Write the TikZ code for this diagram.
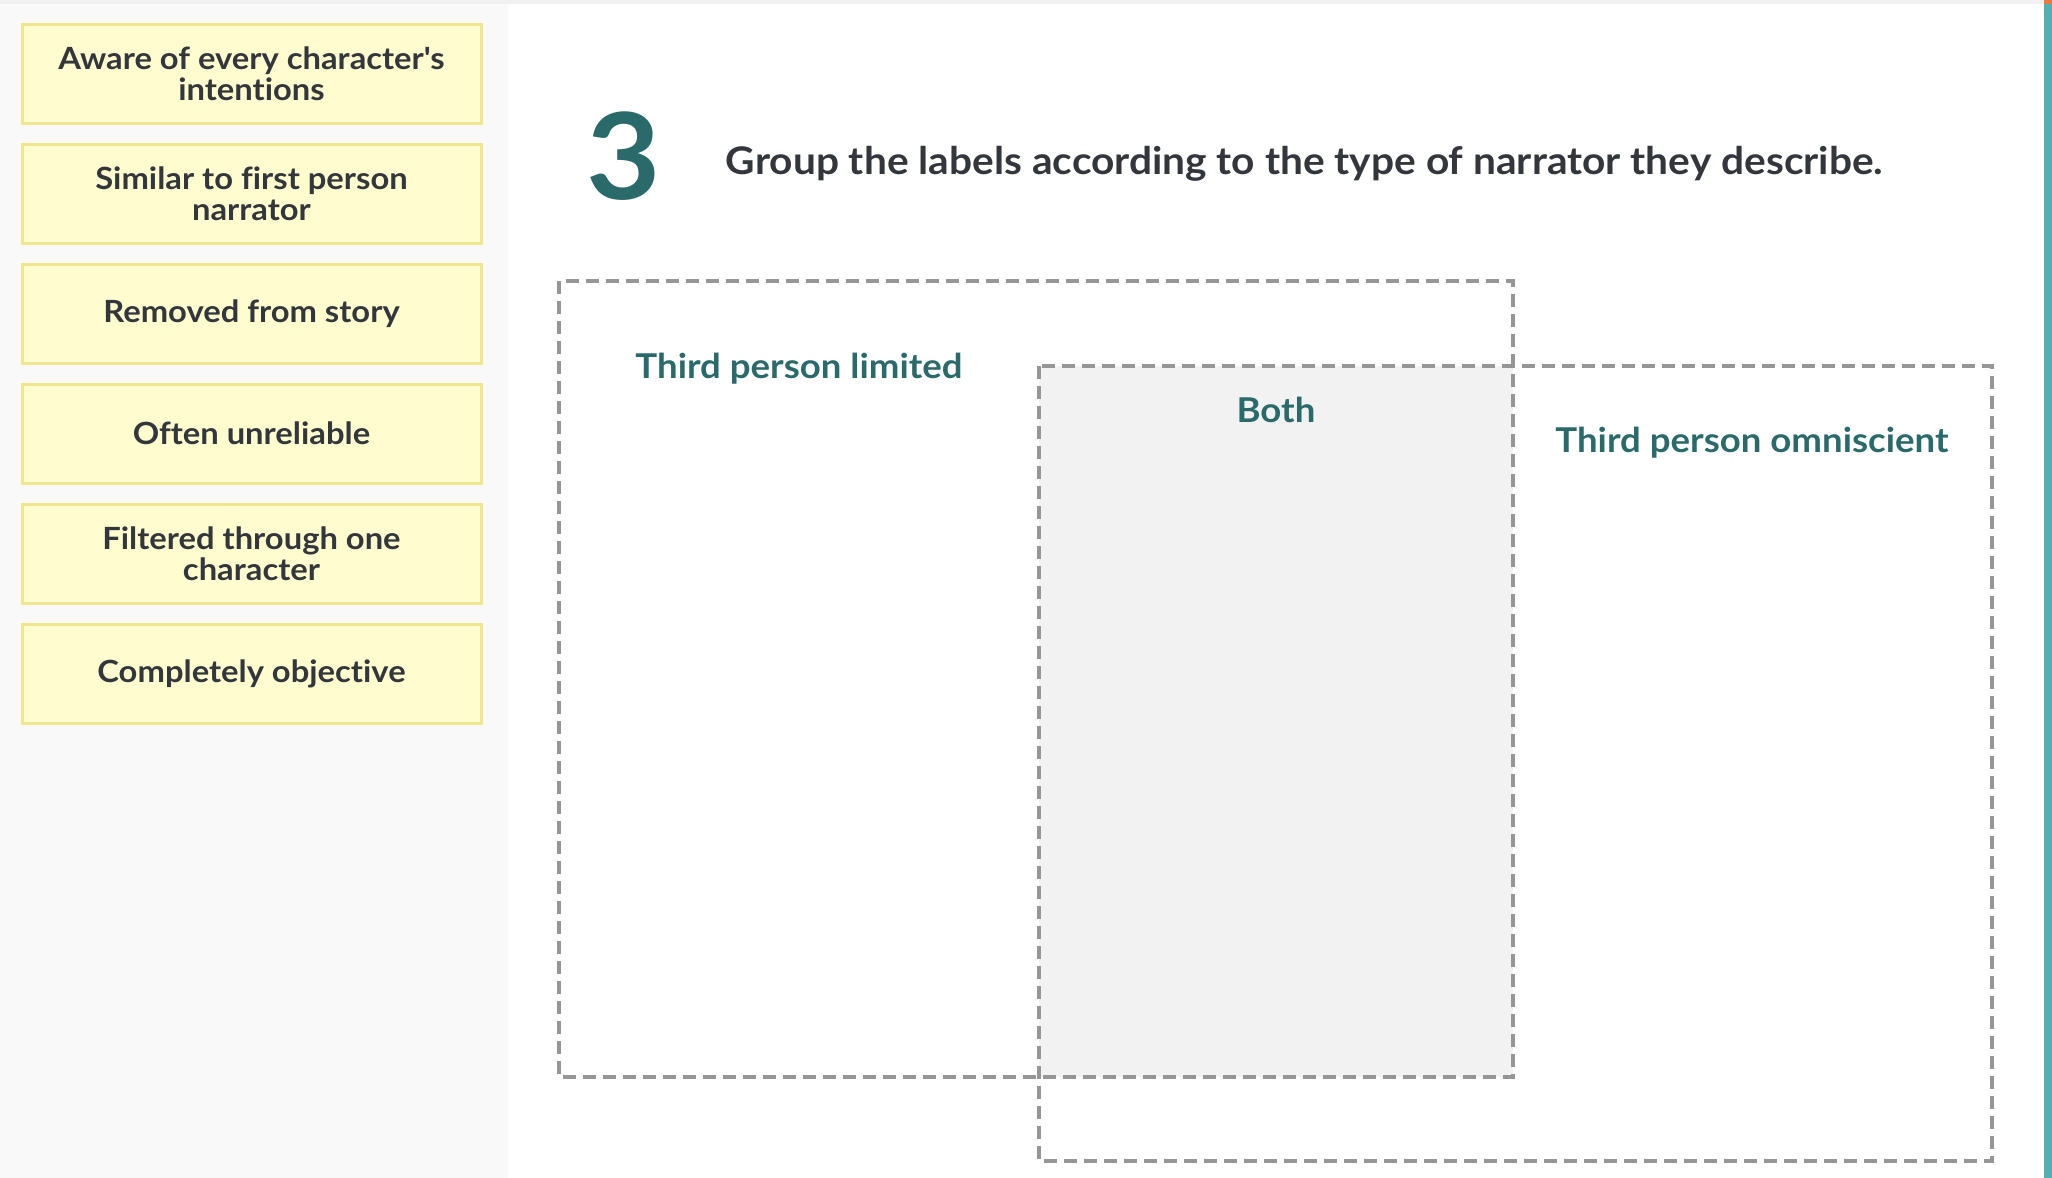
\documentclass[tikz,border=0pt]{standalone}
\usepackage{fontspec}
\setmainfont{Lato}[Ligatures={TeXOff,NoCommon},FakeStretch=1.07]
\usepackage{tikz}

\begin{document}
\begin{tikzpicture}[x=0.5pt,y=0.5pt,yscale=-1,
  card/.style={draw={rgb, 255:red, 240; green, 230; blue, 140 },fill={rgb, 255:red, 255; green, 253; blue, 208 },line width=1.5pt},
  cardtext/.style={align=center,inner sep=0.75pt,text={rgb, 255:red, 51; green, 55; blue, 60 },font=\fontsize{15.3}{15.5}\selectfont\bfseries},
  zone/.style={draw={rgb, 255:red, 150; green, 150; blue, 150 },line width=1.8pt,dash pattern=on 6.5pt off 3.5pt},
  zonetext/.style={anchor=base,inner sep=0.75pt,text={rgb, 255:red, 42; green, 106; blue, 106 },font=\fontsize{17.1}{20}\selectfont\bfseries}]
\useasboundingbox (0,0) rectangle (2052,1178);

%Shape: Rectangle [id:dp4418207735120416] 
\fill [color={rgb, 255:red, 249; green, 249; blue, 249 }] (0,0) rectangle (508,1178) ;
%Shape: Rectangle [id:dp7120395541782603] 
\fill [color={rgb, 255:red, 240; green, 240; blue, 240 }] (0,0) rectangle (2052,4) ;
%Shape: Rectangle [id:dp2950467181356628] 
\fill [color={rgb, 255:red, 80; green, 176; blue, 180 }] (2044,0) rectangle (2052,1178) ;
%Shape: Rectangle [id:dp8813072650913351] 
\fill [color={rgb, 255:red, 232; green, 120; blue, 60 }] (2044,0) rectangle (2052,4) ;

%Shape: Rectangle [id:dp5306613398216474] 
\draw [card] (22,24) rectangle (481,123) ;
%Shape: Rectangle [id:dp0693425174488913] 
\draw [card] (22,144) rectangle (481,243) ;
%Shape: Rectangle [id:dp3351970841246620] 
\draw [card] (22,264) rectangle (481,363) ;
%Shape: Rectangle [id:dp9762510083374418] 
\draw [card] (22,384) rectangle (481,483) ;
%Shape: Rectangle [id:dp1627749305581937] 
\draw [card] (22,504) rectangle (481,603) ;
%Shape: Rectangle [id:dp6049173382211795] 
\draw [card] (22,624) rectangle (481,723) ;

%Shape: Rectangle [id:dp3818842206970147] 
\fill [color={rgb, 255:red, 242; green, 242; blue, 242 }] (1039,366) rectangle (1513,1077) ;
%Shape: Rectangle [id:dp7465839210357702] 
\draw [zone] (559,281) rectangle (1513,1077) ;
%Shape: Rectangle [id:dp1184462759903265] 
\draw [zone] (1039,366) rectangle (1992,1161) ;

% Text Node
\draw (251.5,73.5) node [cardtext] (aware) {Aware of every character's\\intentions};
% Text Node
\draw (251.5,193.5) node [cardtext] (similar) {Similar to first person\\narrator};
% Text Node
\draw (251.5,313.5) node [cardtext] (removed) {Removed from story};
% Text Node
\draw (251.5,433.5) node [cardtext] (unreliable) {Often unreliable};
% Text Node
\draw (251.5,553.5) node [cardtext] (filtered) {Filtered through one\\character};
% Text Node
\draw (251.5,673.5) node [cardtext] (objective) {Completely objective};

% Text Node
\draw (624,199) node [anchor=base][inner sep=0.75pt] [text={rgb, 255:red, 42; green, 106; blue, 106 },font=\fontsize{60}{60}\selectfont\bfseries] (number) {3};
% Text Node
\draw (724,174) node [anchor=base west][inner sep=0.75pt] [text={rgb, 255:red, 51; green, 55; blue, 60 },font=\fontsize{19}{22}\selectfont\bfseries] (question) {Group the labels according to the type of narrator they describe.};

% Text Node
\draw (799,378) node [zonetext] (limited) {Third person limited};
% Text Node
\draw (1276,422) node [zonetext] (both) {Both};
% Text Node
\draw (1752,452) node [zonetext] (omniscient) {Third person omniscient};

\end{tikzpicture}
\end{document}
